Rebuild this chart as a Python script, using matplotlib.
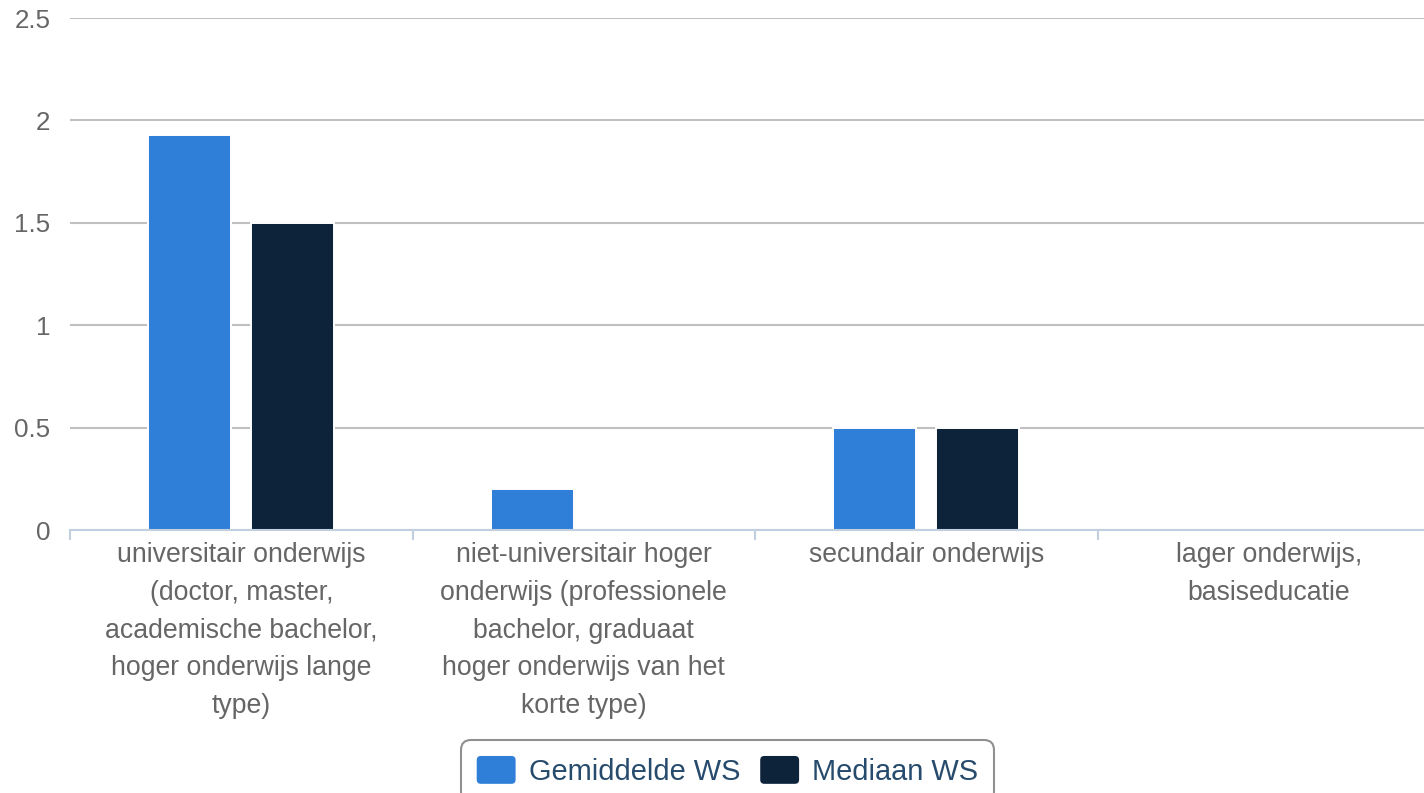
import numpy as np
import matplotlib
matplotlib.use('Agg')
import matplotlib.pyplot as plt
from matplotlib.patches import FancyBboxPatch, Patch
from matplotlib.legend_handler import HandlerPatch

plt.rcParams['font.family'] = ['Liberation Sans', 'DejaVu Sans']

# Data
categories = [
    'universitair onderwijs\n(doctor, master,\nacademische bachelor,\nhoger onderwijs lange\ntype)',
    'niet-universitair hoger\nonderwijs (professionele\nbachelor, graduaat\nhoger onderwijs van het\nkorte type)',
    'secundair onderwijs',
    'lager onderwijs,\nbasiseducatie',
]
gemiddelde_ws = [1.93, 0.2, 0.5, 0]
mediaan_ws = [1.5, 0, 0.5, 0]
y_ticks = [0, 0.5, 1, 1.5, 2, 2.5]
y_tick_labels = ['0', '0.5', '1', '1.5', '2', '2.5']

BLUE = '#2f7ed8'
DARK = '#0d233a'
LABEL = '#666666'
GRID = '#c0c0c0'
AXIS = '#c0d0e0'


# Legend handler with rounded squares
class RoundHandler(HandlerPatch):
    def create_artists(self, legend, orig_handle, xdescent, ydescent,
                       width, height, fontsize, trans):
        p = FancyBboxPatch((-xdescent, -ydescent), width, height,
                           boxstyle='round,pad=0,rounding_size=3',
                           facecolor=orig_handle.get_facecolor(),
                           edgecolor='none', transform=trans)
        return [p]


fig = plt.figure(figsize=(14.24, 7.93), dpi=100)
# axes extends slightly past the right edge, as in the reference
ax = fig.add_axes([70 / 1424, 1 - 530 / 793, 1370 / 1424, 512 / 793])

x = np.arange(len(categories))
w = 0.242
ax.bar(x - 0.15, gemiddelde_ws, w, color=BLUE, edgecolor='white', linewidth=1.4, zorder=2)
ax.bar(x + 0.15, mediaan_ws, w, color=DARK, edgecolor='white', linewidth=1.4, zorder=2)

ax.set_xlim(-0.5, len(categories) - 0.5)
ax.set_ylim(0, 2.5)
ax.set_yticks(y_ticks)
ax.set_yticklabels(y_tick_labels)
ax.yaxis.grid(True, color=GRID, linewidth=1.5)
ax.set_axisbelow(True)

ax.set_xticks(x)
ax.set_xticklabels(categories, linespacing=1.58)
ax.set_xticks(np.arange(-0.5, len(categories)), minor=True)
ax.tick_params(axis='x', which='major', length=0, pad=9, labelsize=19.2, labelcolor=LABEL)
ax.tick_params(axis='x', which='minor', length=7, width=1.5, color=AXIS)
ax.tick_params(axis='y', length=0, pad=14, labelsize=18.7, labelcolor=LABEL)

for s in ['top', 'right', 'left']:
    ax.spines[s].set_visible(False)
ax.spines['bottom'].set_color(AXIS)
ax.spines['bottom'].set_linewidth(1.5)
ax.spines['bottom'].set_zorder(3)

handles = [Patch(facecolor=BLUE, label='Gemiddelde WS'),
           Patch(facecolor=DARK, label='Mediaan WS')]
leg = fig.legend(handles=handles, loc='upper center', ncol=2,
                 bbox_to_anchor=(727.5 / 1424, 1 - 740 / 793),
                 borderaxespad=0, fontsize=20.9, frameon=True, fancybox=True,
                 handlelength=1.34, handleheight=1.1, handletextpad=0.45,
                 columnspacing=0.69, borderpad=0.55,
                 handler_map={Patch: RoundHandler()})
for t in leg.get_texts():
    t.set_color('#274b6d')
frame = leg.get_frame()
frame.set_edgecolor('#909090')
frame.set_linewidth(1.5)
frame.set_alpha(1)
frame.set_boxstyle('round,pad=0,rounding_size=0.35')

fig.savefig('out.png', dpi=100)
